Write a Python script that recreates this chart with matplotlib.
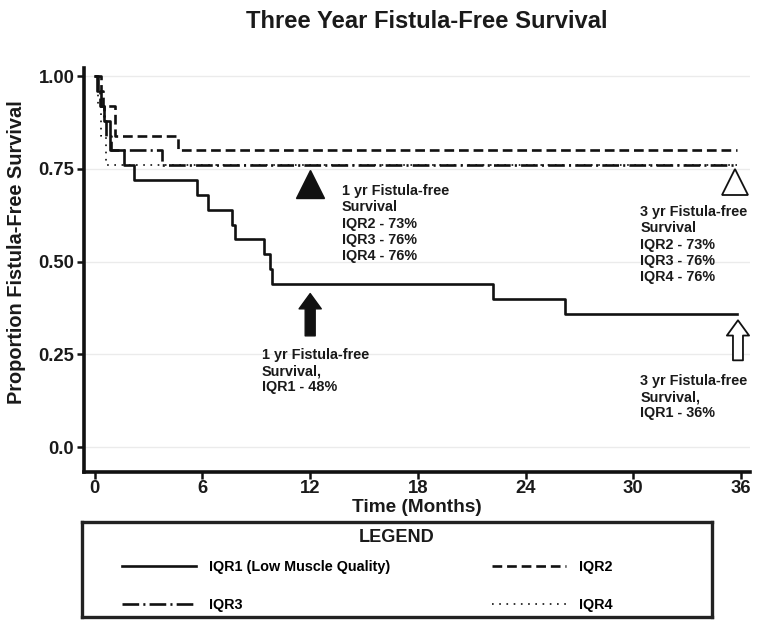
import matplotlib
matplotlib.use("Agg")
import matplotlib.pyplot as plt

plt.rcParams['font.family'] = ['Liberation Sans', 'DejaVu Sans']
plt.rcParams['lines.scale_dashes'] = False

# ---- data ----
iqr1_t = [0, 0.15, 0.37, 0.5, 0.83, 1.65, 2.2, 5.7, 6.3, 7.65, 7.8, 9.45, 9.75, 9.9, 22.2, 26.2, 35.8]
iqr1_s = [1.0, 0.96, 0.92, 0.88, 0.80, 0.76, 0.72, 0.68, 0.64, 0.60, 0.56, 0.52, 0.48, 0.44, 0.40, 0.36, 0.36]
iqr2_t = [0, 0.35, 0.45, 1.1, 4.65, 35.8]
iqr2_s = [1.0, 0.96, 0.92, 0.84, 0.80, 0.80]
iqr3_t = [0, 0.2, 0.3, 0.5, 0.6, 0.9, 3.75, 35.8]
iqr3_s = [1.0, 0.96, 0.92, 0.88, 0.84, 0.80, 0.76, 0.76]
iqr4_t = [0, 0.2, 0.35, 0.6, 35.8]
iqr4_s = [1.0, 0.92, 0.84, 0.76, 0.76]

labels = ['IQR1 (Low Muscle Quality)', 'IQR2', 'IQR3', 'IQR4']
xticks = [0, 6, 12, 18, 24, 30, 36]
yticks = [0.0, 0.25, 0.50, 0.75, 1.00]
ytick_labels = ['0.0', '0.25', '0.50', '0.75', '1.00']

tri_x = [12, 35.65]
tri_y = [0.71, 0.714]
arrow_x = [12, 35.83]
arrow_from = [0.30, 0.234]
arrow_to = [0.414, 0.342]

note_1yr_top = "1 yr Fistula-free\nSurvival\nIQR2 - 73%\nIQR3 - 76%\nIQR4 - 76%"
note_1yr_bot = "1 yr Fistula-free\nSurvival,\nIQR1 - 48%"
note_3yr_top = "3 yr Fistula-free\nSurvival\nIQR2 - 73%\nIQR3 - 76%\nIQR4 - 76%"
note_3yr_bot = "3 yr Fistula-free\nSurvival,\nIQR1 - 36%"

W, H = 758, 626
fig = plt.figure(figsize=(W / 100, H / 100), dpi=100)
ax = fig.add_axes([84 / W, 1 - 472 / H, (750 - 84) / W, (472 - 68) / H])

ink = '#111111'
txt = '#1a1a1a'
lw = 1.9
h1, = ax.step(iqr1_t, iqr1_s, where='post', color=ink, lw=lw, ls='-')
h2, = ax.step(iqr2_t, iqr2_s, where='post', color=ink, lw=lw, ls=(0, (7, 3.5)))
h3, = ax.step(iqr3_t, iqr3_s, where='post', color=ink, lw=lw, ls=(0, (12, 3, 1.5, 3)))
h4, = ax.step(iqr4_t, iqr4_s, where='post', color=ink, lw=1.2, ls=(0, (1.2, 4)))

ax.set_xlim(-0.6, 36.5)
ax.set_ylim(-0.067, 1.022)
ax.set_xticks(xticks)
ax.set_yticks(yticks)
ax.set_yticklabels(ytick_labels)
ax.grid(axis='y', color='#ebebeb', lw=1)
ax.set_axisbelow(True)
for s in ['top', 'right']:
    ax.spines[s].set_visible(False)
for s in ['left', 'bottom']:
    ax.spines[s].set_linewidth(2.6)
    ax.spines[s].set_color(ink)
ax.tick_params(direction='out', length=5, width=1.8, color=ink, labelsize=13.3, pad=2)
ax.tick_params(axis='x', pad=1)
for t in ax.get_xticklabels() + ax.get_yticklabels():
    t.set_fontweight('bold')
    t.set_color(txt)

ax.set_xlabel('Time (Months)', fontsize=13.7, fontweight='bold', color=txt)
ax.xaxis.set_label_coords(0.5, -0.068)
ax.set_ylabel('Proportion Fistula-Free Survival', fontsize=14.4, fontweight='bold', color=txt)
ax.yaxis.set_label_coords(-0.087, 0.545)
fig.text(427 / W, 1 - 22 / H, 'Three Year Fistula-Free Survival', fontsize=17.1, fontweight='bold',
         color=txt, ha='center', va='center')

# markers
ax.plot(tri_x[0], tri_y[0], marker='^', ms=20, color=ink, mec=ink, ls='none')
ax.plot(tri_x[1], tri_y[1], marker='^', ms=19, mfc='white', mec=ink, mew=1.3, ls='none')

# arrows
ax.annotate('', xy=(arrow_x[0], arrow_to[0]), xytext=(arrow_x[0], arrow_from[0]),
            arrowprops=dict(arrowstyle='simple,head_length=0.55,head_width=0.8,tail_width=0.36',
                            fc=ink, ec=ink, mutation_scale=20, shrinkA=0, shrinkB=0))
ax.annotate('', xy=(arrow_x[1], arrow_to[1]), xytext=(arrow_x[1], arrow_from[1]),
            arrowprops=dict(arrowstyle='simple,head_length=0.55,head_width=0.8,tail_width=0.36',
                            fc='white', ec=ink, lw=1.3, mutation_scale=20, shrinkA=0, shrinkB=0))

tk = dict(fontsize=10.4, fontweight='bold', color=txt, ha='left', va='top', linespacing=1.2)
ax.text(13.76, 0.709, note_1yr_top, **tk)
ax.text(9.31, 0.267, note_1yr_bot, **tk)
ax.text(30.4, 0.652, note_3yr_top, **tk)
ax.text(30.4, 0.197, note_3yr_bot, **tk)

# legend box
lax = fig.add_axes([82 / W, 1 - 617 / H, (712 - 82) / W, (617 - 522) / H])
lax.set_xticks([]); lax.set_yticks([])
lax.set_facecolor('white')
for s in lax.spines.values():
    s.set_linewidth(2.4)
    s.set_color('#222222')
lax.text(0.5, 1 - 16 / 95, 'LEGEND', ha='center', va='center', fontsize=13.1, fontweight='bold',
         color=txt, transform=lax.transAxes)
lax.legend([h1, h3, h2, h4], [labels[0], labels[2], labels[1], labels[3]], ncol=2,
           loc='upper left', bbox_to_anchor=(40 / 630, 1 - 38 / 95), frameon=False,
           prop={'size': 10.4, 'weight': 'bold'}, handlelength=5.1, handletextpad=0.9,
           columnspacing=7.1, labelspacing=1.67, borderaxespad=0, borderpad=0)

fig.savefig('out.png', dpi=100, facecolor='white')
